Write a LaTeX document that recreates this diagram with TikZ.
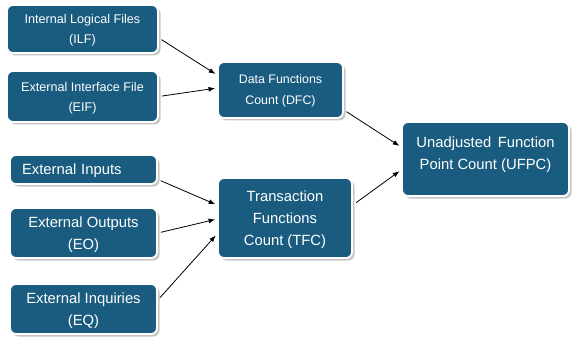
\documentclass[tikz,border=0pt]{standalone}
\usepackage{fontspec}
\setmainfont{Liberation Sans}
\usetikzlibrary{arrows.meta,shadows}
\definecolor{boxblue}{RGB}{26,92,128}

\begin{document}
\begin{tikzpicture}[x=1pt, y=-1pt, >=Latex,
  box/.style={draw=white, line width=1.8pt, rounded corners=6pt, fill=boxblue,
              text=white, align=center, inner sep=0pt, text depth=0pt,
              drop shadow={shadow xshift=2.5pt, shadow yshift=-2.5pt, fill=black!22, opacity=1}},
  small/.style={font=\fontsize{12.6}{20}\selectfont},
  large/.style={font=\fontsize{14.8}{22}\selectfont},
  link/.style={->, line width=0.8pt, shorten <=3pt, shorten >=2pt}]
\useasboundingbox[fill=white] (0,0) rectangle (572,339);
\node[box, small, minimum width=151pt, minimum height=48pt] (ilf) at (82.5,29) {Internal Logical Files\\(ILF)};
\node[box, small, minimum width=151pt, minimum height=51pt] (eif) at (82.5,96.5) {External Interface File\\(EIF)};
\node[box, font=\fontsize{12.4}{21}\selectfont, minimum width=125pt, minimum height=56pt] (dfc) at (280.5,90) {Data Functions\\Count (DFC)};
\node[box, large, align=left, text width=123pt, inner xsep=12pt, minimum height=29pt] (ei) at (83.5,169.5) {External Inputs};
\node[box, large, minimum width=147pt, minimum height=50pt] (eo) at (83.5,233) {External Outputs\\(EO)};
\node[box, large, minimum width=147pt, minimum height=50pt] (eiq) at (83.5,309) {External Inquiries\\(EQ)};
\node[box, large, minimum width=134pt, minimum height=80pt] (tfc) at (285,218) {Transaction\\Functions\\Count (TFC)};
\node[box, large, minimum width=167pt, minimum height=74pt, text depth=12pt] (ufpc) at (485.5,159) {Unadjusted\, Function\\Point Count (UFPC)};
\draw[link] ([yshift=-9pt]ilf.east) -- ([yshift=15pt]dfc.west);
\draw[link] (eif.east) -- ([yshift=2pt]dfc.west);
\draw[link] ([yshift=-20pt]dfc.east) -- ([yshift=12pt]ufpc.west);
\draw[link, shorten <=4pt] ([yshift=13pt]tfc.east) -- ([yshift=-11pt]ufpc.west);
\draw[link] ([yshift=-10pt]ei.east) -- ([yshift=13pt]tfc.west);
\draw[link] (eo.east) -- ([yshift=-1pt]tfc.west);
\draw[link] ([yshift=9pt]eiq.east) -- ([yshift=-16pt]tfc.west);
\end{tikzpicture}
\end{document}
